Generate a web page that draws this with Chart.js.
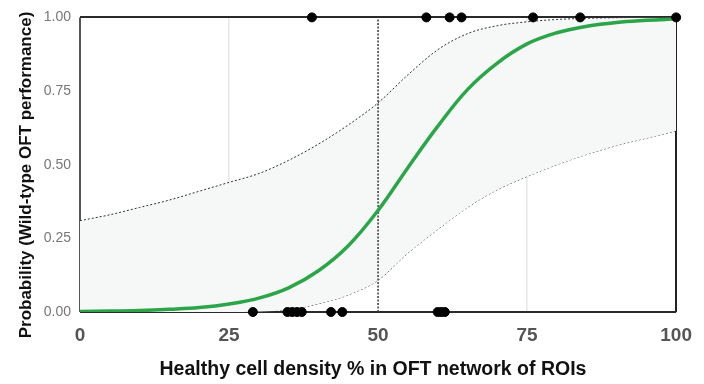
<!DOCTYPE html>
<html>
<head>
<meta charset="utf-8">
<script src="https://cdn.jsdelivr.net/npm/chart.js@4.4.1/dist/chart.umd.min.js"></script>
<style>
  body { margin: 0; background: #fff; }
  #wrap { width: 704px; height: 384px; }
</style>
</head>
<body>
<div id="wrap"><canvas id="myChart" width="704" height="384"></canvas></div>
<script>
// values
const densityX = [0, 5, 10, 15, 20, 25, 30, 35, 40, 45, 50, 55, 60, 65, 70, 75, 80, 85, 90, 95, 100]
const fitProb = [0.002, 0.003, 0.005, 0.009, 0.015, 0.027, 0.047, 0.082, 0.14, 0.225, 0.345, 0.49, 0.63, 0.755, 0.845, 0.91, 0.948, 0.97, 0.983, 0.99, 0.995]
const upperCI = [0.31, 0.33, 0.355, 0.38, 0.41, 0.44, 0.47, 0.515, 0.57, 0.635, 0.71, 0.805, 0.89, 0.945, 0.972, 0.985, 0.993, 0.997, 0.999, 1.0, 1.0]
const lowerCI = [0, 0, 0, 0, 0, 0, 0.002, 0.008, 0.028, 0.058, 0.108, 0.2, 0.28, 0.355, 0.415, 0.46, 0.5, 0.535, 0.565, 0.59, 0.615]
const successX = [38.9, 58.1, 62.0, 64.0, 76.0, 83.9, 100]
const failureX = [29.0, 34.8, 35.6, 36.4, 37.2, 42.1, 44.0, 60.0, 60.6, 61.2]
const cutoffX = 50
const xTickStep = 25
const yTickStep = 0.25
const xTitleText = 'Healthy cell density % in OFT network of ROIs'
const yTitleText = 'Probability (Wild-type OFT performance)'

const el = document.getElementById('myChart') || false
const fontFamily = '"Liberation Sans", Arial, sans-serif'

const toPts = (vals) => densityX.map((x, i) => ({ x: x, y: vals[i] }))

// axis titles placed by hand so they sit where the original has them
const axisTitles = {
  id: 'axisTitles',
  afterDraw(chart) {
    const ctx = chart.ctx
    ctx.save()
    ctx.fillStyle = '#111'
    ctx.textAlign = 'center'
    ctx.textBaseline = 'alphabetic'
    ctx.font = 'bold 19.5px ' + fontFamily
    ctx.fillText(xTitleText, 373, 375)
    ctx.translate(31, 175)
    ctx.rotate(-Math.PI / 2)
    ctx.font = 'bold 17px ' + fontFamily
    ctx.fillText(yTitleText, 0, 0)
    ctx.restore()
  },
}

function handleChart() {
  if (el) {
    const chartConfig = {
      type: 'scatter',
      data: {
        datasets: [
          {
            data: successX.map((x) => ({ x: x, y: 1 })),
            backgroundColor: '#000',
            borderColor: '#000',
            pointRadius: 4.5,
            showLine: false,
            clip: false,
          },
          {
            data: failureX.map((x) => ({ x: x, y: 0 })),
            backgroundColor: '#000',
            borderColor: '#000',
            pointRadius: 4.5,
            showLine: false,
            clip: false,
          },
          {
            data: toPts(fitProb),
            showLine: true,
            borderColor: '#2aa548',
            borderWidth: 3.5,
            pointRadius: 0,
            tension: 0.4,
            fill: false,
          },
          {
            data: [{ x: cutoffX, y: 0 }, { x: cutoffX, y: 1 }],
            showLine: true,
            borderColor: '#444',
            borderWidth: 1.6,
            borderDash: [2, 1.5],
            pointRadius: 0,
            fill: false,
          },
          {
            data: toPts(upperCI),
            showLine: true,
            borderColor: '#333',
            borderWidth: 1,
            borderDash: [2, 2],
            pointRadius: 0,
            cubicInterpolationMode: 'monotone',
            backgroundColor: '#f5f8f7',
            fill: '+1',
          },
          {
            data: toPts(lowerCI),
            showLine: true,
            borderColor: '#333',
            borderWidth: 1,
            borderDash: [2, 2],
            pointRadius: 0,
            cubicInterpolationMode: 'monotone',
            fill: false,
          },
        ],
      },
      options: {
        responsive: false,
        animation: false,
        layout: { padding: { left: 0, right: 26, top: 17, bottom: 0 } },
        plugins: {
          legend: { display: false },
          tooltip: { enabled: false },
        },
        scales: {
          x: {
            type: 'linear',
            min: 0,
            max: 100,
            afterFit: (s) => { s.height = 72 },
            border: { display: false },
            grid: {
              drawTicks: false,
              lineWidth: (c) => (c.tick.value === 0 || c.tick.value === 100 ? 2 : 1.5),
              color: (c) => {
                const v = c.tick.value
                if (v === 0) return '#555'
                if (v === 100) return '#222'
                if (v === 25 || v === 75) return '#e6e6e6'
                return 'rgba(0,0,0,0)'
              },
            },
            ticks: {
              stepSize: xTickStep,
              padding: 12,
              color: '#555',
              font: { family: fontFamily, size: 19, weight: 'bold' },
            },
          },
          y: {
            min: 0,
            max: 1,
            afterFit: (s) => { s.width = 80 },
            border: { display: false },
            grid: {
              drawTicks: false,
              lineWidth: 2,
              color: (c) => (c.tick.value === 0 || c.tick.value === 1 ? '#2a2a2a' : 'rgba(0,0,0,0)'),
            },
            ticks: {
              stepSize: yTickStep,
              padding: 9,
              color: '#777',
              font: { family: fontFamily, size: 14 },
              callback: (v) => v.toFixed(2),
            },
          },
        },
      },
      plugins: [axisTitles],
    }

    const ctx = el.getContext('2d')
    const chart = new Chart(ctx, chartConfig)
  }
}

handleChart()
</script>
</body>
</html>
